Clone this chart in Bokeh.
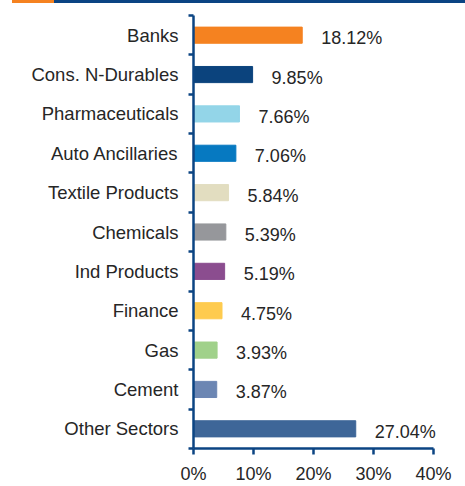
from bokeh.plotting import figure
from bokeh.models import ColumnDataSource, FixedTicker, LabelSet, Range1d, Div, Spacer
from bokeh.layouts import column, row
from bokeh.core.properties import value
from bokeh.embed import file_html
from bokeh.resources import INLINE

sectors = ["Banks", "Cons. N-Durables", "Pharmaceuticals", "Auto Ancillaries",
           "Textile Products", "Chemicals", "Ind Products", "Finance", "Gas",
           "Cement", "Other Sectors"]
weights = [18.12, 9.85, 7.66, 7.06, 5.84, 5.39, 5.19, 4.75, 3.93, 3.87, 27.04]
colors = ["#F58220", "#0B437D", "#93D5E8", "#0679C1", "#E2DDC0", "#96979B",
          "#8B4D8F", "#FECB4F", "#A0D18A", "#6C86B3", "#3E6698"]
x_ticks = [0, 10, 20, 30, 40]
x_tick_labels = ["0%", "10%", "20%", "30%", "40%"]

n = len(sectors)
ypos = [n - 0.5 - i for i in range(n)]
labels = [f"{w:.2f}%" for w in weights]

src = ColumnDataSource(dict(y=ypos, w=weights, c=colors, lab=labels, name=sectors))

NAVY = "#0B4483"
ORANGE = "#F58220"
FONT = "Liberation Sans"
W = 465
H = 483

p = figure(width=W, height=H, output_backend="svg", toolbar_location=None,
           x_range=Range1d(0, 42), y_range=Range1d(0, n),
           min_border_left=193, min_border_right=W - 193 - 252, min_border_top=12,
           min_border_bottom=38)
p.outline_line_color = None
p.grid.grid_line_color = None
p.background_fill_color = "white"

p.hbar(y="y", left=0, right="w", height=0.41, color="c", source=src)

lbl = LabelSet(x="w", y="y", text="lab", source=src, x_offset=19, y_offset=-3,
               text_baseline="middle", text_font=value(FONT), text_font_size=value("18px"),
               text_color="#262626")
p.add_layout(lbl)

# x axis
xa = p.xaxis[0]
xa.bounds = (0, 40)
xa.ticker = FixedTicker(ticks=x_ticks)
xa.major_label_overrides = {t: s for t, s in zip(x_ticks, x_tick_labels)}
xa.axis_line_color = NAVY
xa.axis_line_width = 2.5
xa.major_tick_line_color = NAVY
xa.major_tick_line_width = 2.5
xa.major_tick_out = 6
xa.major_tick_in = 0
xa.minor_tick_line_color = None
xa.major_label_standoff = 9
xa.major_label_text_font = FONT
xa.major_label_text_font_size = "18px"
xa.major_label_text_color = "#262626"

# y axis
ya = p.yaxis[0]
ya.ticker = FixedTicker(ticks=ypos, minor_ticks=list(range(n + 1)))
ya.major_label_overrides = {y: s for y, s in zip(ypos, sectors)}
ya.axis_line_color = NAVY
ya.axis_line_width = 2.5
ya.major_tick_line_color = None
ya.major_tick_out = 0
ya.major_tick_in = 0
ya.minor_tick_line_color = NAVY
ya.minor_tick_line_width = 2.5
ya.minor_tick_out = 5
ya.minor_tick_in = 0
ya.major_label_standoff = 10
ya.major_label_text_font = FONT
ya.major_label_text_font_size = "18.5px"
ya.major_label_text_color = "#262626"

# top banner
banner = row(
    Spacer(width=12, height=3, margin=0),
    Div(text="", width=42, height=3, margin=0, styles={"background-color": ORANGE}),
    Div(text="", width=W - 54, height=3, margin=0, styles={"background-color": NAVY}),
    spacing=0, margin=0,
)

layout = column(banner, p, spacing=0)

open("out.html", "w").write(file_html(layout, INLINE))
